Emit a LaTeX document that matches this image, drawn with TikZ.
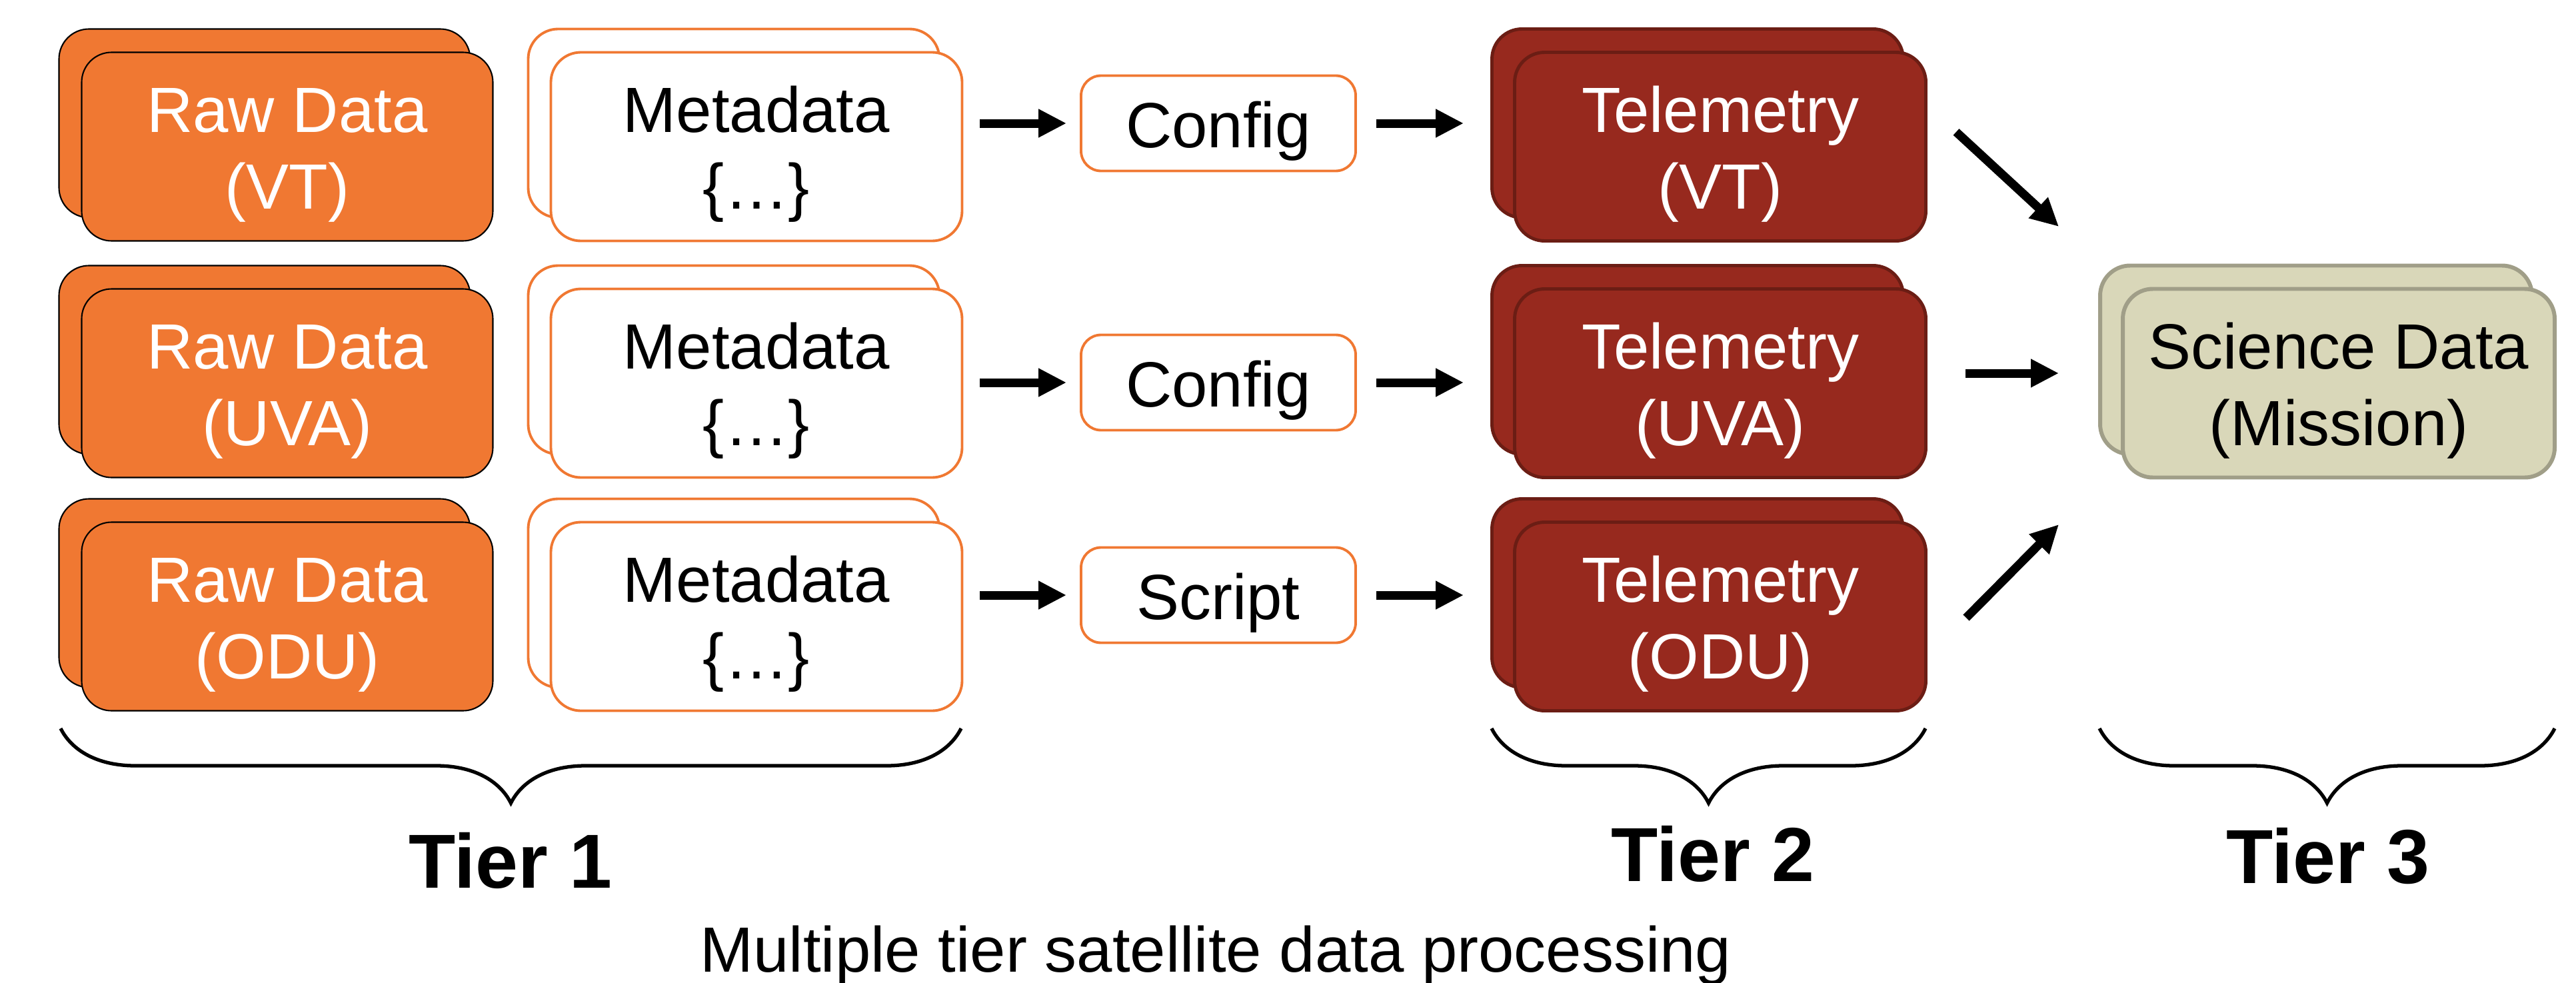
\documentclass[tikz,border=0pt]{standalone}
\usepackage{fontspec}
\setmainfont{Liberation Sans}
\usetikzlibrary{arrows.meta, positioning, shadows, decorations.pathreplacing, calc}
\definecolor{RawOrange}{HTML}{F07832}
\definecolor{TeleRed}{HTML}{97291E}
\definecolor{TeleEdge}{HTML}{6B1D14}
\definecolor{SciFill}{HTML}{D9D7B9}
\definecolor{SciEdge}{HTML}{A09E88}

\begin{document}
\begin{tikzpicture}[
    stack/.style={
      rectangle, rounded corners=0.45cm, minimum width=6.17cm,
      minimum height=2.83cm, inner sep=0pt, align=center,
      text height=2.06cm, text depth=0.2cm,
      font=\fontsize{27.3}{32.5}\selectfont,
      copy shadow={shadow xshift=-0.34cm, shadow yshift=0.35cm}
    },
    raw/.style={stack, fill=RawOrange, draw=black, line width=0.6pt, text=white},
    meta/.style={stack, fill=white, draw=RawOrange, line width=1.1pt},
    tele/.style={stack, fill=TeleRed, draw=TeleEdge, line width=1.4pt, text=white},
    sci/.style={stack, fill=SciFill, draw=SciEdge, line width=1.7pt, minimum width=6.48cm},
    cfg/.style={
      rectangle, rounded corners=0.3cm, fill=white, draw=RawOrange,
      line width=1.1pt, minimum width=4.12cm, minimum height=1.43cm,
      inner sep=0pt, text height=0.72cm, text depth=0cm,
      font=\fontsize{27.3}{32.5}\selectfont
    },
    flow/.style={-{Triangle[length=0.42cm, width=0.4cm]}, line width=0.13cm},
    tierbrace/.style={decorate, decoration={brace, mirror, amplitude=1.12cm}, line width=1.5pt},
    tier/.style={anchor=base, font=\bfseries\fontsize{32.7}{36}\selectfont}
  ]
    \useasboundingbox (0,0) rectangle (38.65,-14.75);

    % tier 1
    \node[raw] (raw1) at (4.31,-2.20) {Raw Data\\(VT)};
    \node[raw] (raw2) at (4.31,-5.75) {Raw Data\\(UVA)};
    \node[raw] (raw3) at (4.31,-9.25) {Raw Data\\(ODU)};
    \node[meta] (meta1) at (11.35,-2.20) {Metadata\\\{…\}};
    \node[meta] (meta2) at (11.35,-5.75) {Metadata\\\{…\}};
    \node[meta] (meta3) at (11.35,-9.25) {Metadata\\\{…\}};

    \node[cfg] (cfg1) at (18.28,-1.85) {Config};
    \node[cfg] (cfg2) at (18.28,-5.74) {Config};
    \node[cfg] (cfg3) at (18.28,-8.93) {Script};

    % tier 2 and 3
    \node[tele] (tele1) at (25.81,-2.20) {Telemetry\\(VT)};
    \node[tele] (tele2) at (25.81,-5.75) {Telemetry\\(UVA)};
    \node[tele] (tele3) at (25.81,-9.25) {Telemetry\\(ODU)};
    \node[sci] (sci) at (35.09,-5.75) {Science Data\\(Mission)};

    \foreach \i in {1,2,3} {
      \draw[flow, shorten <=0.25cm, shorten >=0.2cm] (meta\i.east |- cfg\i.west) -- (cfg\i.west);
      \draw[flow, shorten <=0.29cm, shorten >=0.74cm] (cfg\i.east) -- (cfg\i.east -| tele\i.west);
    }

    \coordinate (top0) at (29.35,-1.98);
    \coordinate (top1) at (30.89,-3.40);
    \coordinate (mid0) at (29.49,-5.60);
    \coordinate (mid1) at (30.89,-5.60);
    \coordinate (low0) at (29.50,-9.27);
    \coordinate (low1) at (30.89,-7.87);
    \draw[flow] (top0) -- (top1);
    \draw[flow] (mid0) -- (mid1);
    \draw[flow] (low0) -- (low1);

    % braces
    \draw[tierbrace] (0.91,-10.93) -- (14.42,-10.93);
    \draw[tierbrace] (22.38,-10.93) -- (28.89,-10.93);
    \draw[tierbrace] (31.50,-10.93) -- (38.33,-10.93);

    \node[tier] (t1) at (7.66,-13.32) {Tier 1};
    \node[tier] (t2) at (25.70,-13.22) {Tier 2};
    \node[tier] (t3) at (34.93,-13.25) {Tier 3};
    \node[anchor=base, font=\fontsize{27.3}{32.5}\selectfont] (caption) at (18.24,-14.58) {Multiple tier satellite data processing};
  \end{tikzpicture}
\end{document}
